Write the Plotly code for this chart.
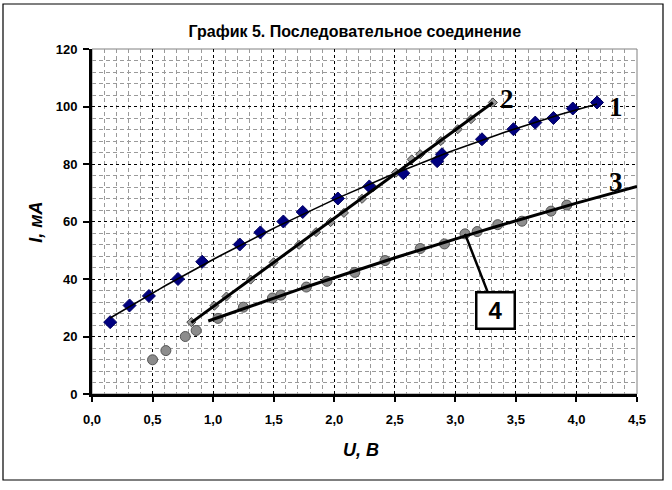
import numpy as np
import plotly.graph_objects as go

# series 1 (blue diamonds)
u1 = [0.15, 0.31, 0.47, 0.71, 0.91, 1.22, 1.39, 1.58, 1.74, 2.03,
      2.29, 2.57, 2.85, 2.89, 3.22, 3.48, 3.66, 3.81, 3.97, 4.17]
i1 = [25.0, 30.8, 34.1, 40.0, 46.0, 52.0, 56.2, 60.0, 63.3, 68.0,
      72.2, 76.8, 81.0, 83.4, 88.6, 92.1, 94.4, 96.0, 99.3, 101.4]

# series 2 (gray diamonds)
u2 = [0.82, 1.01, 1.11, 1.31, 1.50, 1.71, 1.85, 1.97, 2.08, 2.23,
      2.32, 2.51, 2.64, 2.71, 2.88, 3.02, 3.13, 3.31]
i2 = [25.0, 30.7, 33.9, 39.8, 45.8, 51.9, 56.3, 59.8, 63.0, 67.9,
      71.9, 77.0, 81.6, 83.4, 88.0, 92.1, 95.6, 101.4]

# series 3 (gray circles)
u3 = [0.50, 0.61, 0.77, 0.86, 1.04, 1.25, 1.49, 1.56, 1.77, 1.94,
      2.17, 2.42, 2.71, 2.91, 3.08, 3.18, 3.35, 3.55, 3.79, 3.92]
i3 = [11.9, 15.1, 20.0, 22.1, 26.3, 30.2, 33.4, 34.4, 37.2, 39.2,
      42.3, 46.4, 50.6, 52.2, 55.7, 56.5, 58.9, 60.1, 63.6, 65.7]

curve_labels = ['1', '2', '3']
label_u = [4.33, 3.43, 4.33]
label_i = [99.8, 102.6, 73.8]

title = 'График 5. Последовательное соединение'
x_title = 'U, В'
y_title = 'I, мА'

font = 'Arial, Liberation Sans, sans-serif'


def trend(u, i, deg, x0, x1):
    # excel-like trendline from the points
    c = np.polyfit(u, i, deg)
    xs = np.linspace(x0, x1, 80)
    return xs, np.polyval(c, xs)


fig = go.Figure()

fig.add_trace(go.Scatter(x=u3, y=i3, mode='markers',
                         marker=dict(symbol='circle', size=10, color='#8c8c8c',
                                     line=dict(color='#555555', width=1))))
fig.add_trace(go.Scatter(x=u2, y=i2, mode='markers',
                         marker=dict(symbol='diamond', size=7, color='#999999',
                                     line=dict(color='#444444', width=1))))
fig.add_trace(go.Scatter(x=u1, y=i1, mode='markers',
                         marker=dict(symbol='diamond', size=10, color='#000080',
                                     line=dict(color='#000060', width=1))))

# trendlines
fit3 = [k for k in range(len(u3)) if u3[k] >= 1.0]
u3f = [u3[k] for k in fit3]
i3f = [i3[k] for k in fit3]
xs, ys = trend(u1, i1, 2, min(u1), max(u1))
fig.add_trace(go.Scatter(x=xs, y=ys, mode='lines', line=dict(color='black', width=1.6)))
xs, ys = trend(u2, i2, 1, min(u2), max(u2))
fig.add_trace(go.Scatter(x=xs, y=ys, mode='lines', line=dict(color='black', width=3)))
xs, ys = trend(u3f, i3f, 2, min(u3f) - 0.08, 4.5)
fig.add_trace(go.Scatter(x=xs, y=ys, mode='lines', line=dict(color='black', width=3)))

for t, xu, yi in zip(curve_labels, label_u, label_i):
    fig.add_annotation(x=xu, y=yi, text='<b>' + t + '</b>', showarrow=False,
                       font=dict(family='Liberation Serif, Times New Roman, serif',
                                 size=27, color='black'))

# callout 4
fig.add_annotation(x=u3[14], y=i3[14], text='<b>4</b>', ax=30, ay=77,
                   showarrow=True, arrowhead=0, arrowwidth=2.5, arrowcolor='black',
                   bgcolor='white', bordercolor='black', borderwidth=2.5,
                   width=34, height=32, font=dict(family=font, size=24, color='black'))

fig.add_annotation(x=0.494, y=-0.162, xref='paper', yref='paper', showarrow=False,
                   xanchor='center', yanchor='middle',
                   text='<b><i>' + x_title + '</i></b>',
                   font=dict(family=font, size=18, color='black'))
fig.add_annotation(x=-0.103, y=0.499, xref='paper', yref='paper', showarrow=False,
                   xanchor='center', yanchor='middle',
                   text='<b><i>' + y_title + '</i></b>', textangle=-90,
                   font=dict(family=font, size=18, color='black'))

# plot area border and chart border
fig.add_shape(type='rect', xref='x domain', yref='y domain', x0=0, y0=0, x1=1, y1=1,
              line=dict(color='#808080', width=1), layer='below')
fig.add_shape(type='rect', xref='paper', yref='paper', x0=-0.1633, y0=-0.2493,
              x1=1.0477, y1=1.1304, line=dict(color='black', width=1.2))

tick_font = dict(family=font, size=13, color='black', weight='bold')

fig.update_xaxes(range=[0, 4.5], dtick=0.5, tick0=0, tickformat='.1f',
                 showline=True, linecolor='black', linewidth=3,
                 ticks='outside', ticklen=5, tickwidth=2, tickcolor='black',
                 ticklabelstandoff=6,
                 showgrid=True, gridcolor='black', gridwidth=1, griddash='3px,3px',
                 minor=dict(dtick=0.1, showgrid=True, gridcolor='#9a9a9a',
                            griddash='4px,3px', gridwidth=1),
                 zeroline=False, tickfont=tick_font)
fig.update_yaxes(range=[0, 120], dtick=20, tick0=0,
                 showline=True, linecolor='black', linewidth=3,
                 ticks='outside', ticklen=6, tickwidth=2, tickcolor='black',
                 ticklabelstandoff=3,
                 showgrid=True, gridcolor='black', gridwidth=1, griddash='3px,3px',
                 minor=dict(dtick=4, showgrid=True, gridcolor='#9a9a9a',
                            griddash='4px,3px', gridwidth=1),
                 zeroline=False, tickfont=tick_font)

fig.update_layout(
    width=672, height=490,
    margin=dict(l=92, r=35, t=49, b=96),
    paper_bgcolor='white', plot_bgcolor='white',
    showlegend=False,
    separators=', ',
    title=dict(text='<b>' + title + '</b>', x=0.528, y=0.935, xanchor='center',
               yanchor='middle', font=dict(family=font, size=16, color='black')),
)

fig.write_html('out.html', config={'displayModeBar': False},
               post_script="document.body.style.margin='0';")
